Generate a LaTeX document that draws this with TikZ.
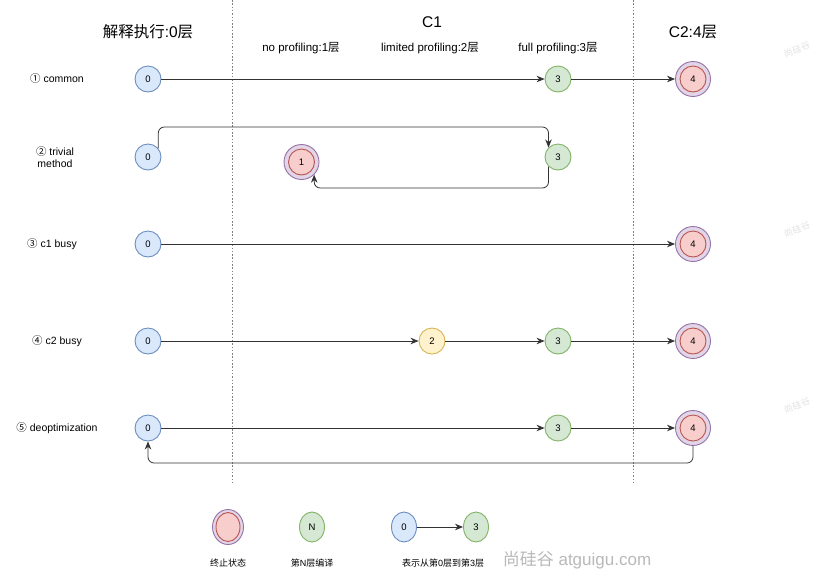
\documentclass[tikz,border=0pt]{standalone}
\usepackage{fontspec}
\setmainfont{Liberation Sans}
\newfontfamily\cjk{Noto Sans CJK SC}
\usetikzlibrary{arrows.meta,shapes.geometric}
\definecolor{bfill}{HTML}{DAE8FC}\definecolor{bline}{HTML}{6C8EBF}
\definecolor{gfill}{HTML}{D5E8D4}\definecolor{gline}{HTML}{82B366}
\definecolor{yfill}{HTML}{FFF2CC}\definecolor{yline}{HTML}{D6B656}
\definecolor{rfill}{HTML}{F8CECC}\definecolor{rline}{HTML}{B85450}
\definecolor{pfill}{HTML}{E1D5E7}\definecolor{pline}{HTML}{9673A6}
\definecolor{conn}{HTML}{333333}
\tikzset{
  st/.style={circle,minimum size=26pt,inner sep=0pt,line width=0.9pt,font=\fontsize{9.5}{10}\selectfont},
  blue0/.style={st,draw=bline,fill=bfill},
  green3/.style={st,draw=gline,fill=gfill},
  yellow2/.style={st,draw=yline,fill=yfill},
  term/.style={st,minimum size=35pt,draw=pline,fill=pfill,
    path picture={\draw[line width=0.9pt,draw=rline,fill=rfill] (path picture bounding box.center) circle (13pt);}},
  arr/.style={draw=conn,line width=0.8pt,-{Stealth[length=8pt,width=6.5pt]}},
  sep/.style={draw=gray,line width=1pt,dash pattern=on 1.5pt off 1.8pt},
  rowlab/.style={font=\fontsize{10.5}{12.5}\selectfont,align=center},
  head/.style={font=\fontsize{15.5}{17}\selectfont},
  sub/.style={font=\fontsize{11.5}{13}\selectfont},
  leg/.style={font=\fontsize{9}{11}\selectfont},
  wm/.style={text=gray!22,font=\fontsize{9}{10}\selectfont,rotate=20,anchor=west,inner sep=0pt}
}
\begin{document}
\begin{tikzpicture}[x=1pt,y=-1pt]
\useasboundingbox (0,0) rectangle (816,582);
\fill[white] (0,0) rectangle (816,582);
% separators
\draw[sep] (232,0) -- (232,485);
\draw[sep] (633,0) -- (633,485);
% headers
\node[head] (h0) at (148,32) {{\cjk 解释执行}:0{\cjk 层}};
\node[head] (h1) at (432,22) {C1};
\node[head] (h2) at (693,32) {C2:4{\cjk 层}};
\node[sub] (s1) at (301,48) {no profiling:1{\cjk 层}};
\node[sub] (s2) at (430,48) {limited profiling:2{\cjk 层}};
\node[sub] (s3) at (558,48) {full profiling:3{\cjk 层}};
% row labels
\node[rowlab] (l1) at (57,79) {{\cjk ①} common};
\node[rowlab] (l2) at (55,157) {{\cjk ②} trivial\\method};
\node[rowlab] (l3) at (52,244) {{\cjk ③} c1 busy};
\node[rowlab] (l4) at (57,341) {{\cjk ④} c2 busy};
\node[rowlab] (l5) at (57,428) {{\cjk ⑤} deoptimization};
% row 1
\node[blue0] (r1a) at (148,79) {0};
\node[green3] (r1c) at (558,79) {3};
\node[term] (r1d) at (693,79) {4};
\draw[arr] (r1a) -- (r1c);
\draw[arr] (r1c) -- (r1d);
% row 2
\node[blue0] (r2a) at (148,157) {0};
\node[term] (r2b) at (301.5,162) {1};
\node[green3] (r2c) at (558,157) {3};
\coordinate (t2) at (0,127);
\coordinate (t3) at (0,188);
\draw[arr,rounded corners=6pt] (r2a.40) -- (r2a.40 |- t2) -- (t2 -| r2c.135) -- (r2c.135);
\draw[arr,rounded corners=6pt] (r2c.225) -- (r2c.225 |- t3) -- (t3 -| r2b.-45) -- (r2b.-45);
% row 3
\node[blue0] (r3a) at (148,244) {0};
\node[term] (r3d) at (693,244) {4};
\draw[arr] (r3a) -- (r3d);
% row 4
\node[blue0] (r4a) at (148,341) {0};
\node[yellow2] (r4b) at (432,341) {2};
\node[green3] (r4c) at (558,341) {3};
\node[term] (r4d) at (693,341) {4};
\draw[arr] (r4a) -- (r4b);
\draw[arr] (r4b) -- (r4c);
\draw[arr] (r4c) -- (r4d);
% row 5
\node[blue0] (r5a) at (148,428) {0};
\node[green3] (r5c) at (558,428) {3};
\node[term] (r5d) at (693,428) {4};
\coordinate (t5) at (0,463);
\draw[arr] (r5a) -- (r5c);
\draw[arr] (r5c) -- (r5d);
\draw[arr,rounded corners=6pt] (r5d.south) -- (r5d.south |- t5) -- (t5 -| r5a.south) -- (r5a.south);
% legend
\node[ellipse,minimum width=31pt,minimum height=35pt,inner sep=0pt,draw=pline,fill=pfill,line width=0.9pt,
  path picture={\draw[line width=0.9pt,draw=rline,fill=rfill] (path picture bounding box.center) ellipse (12pt and 14.5pt);}] (g1) at (228,527) {};
\node[ellipse,minimum width=25pt,minimum height=30pt,inner sep=0pt,draw=gline,fill=gfill,line width=0.9pt,font=\fontsize{9.5}{10}\selectfont] (g2) at (312,527) {N};
\node[ellipse,minimum width=25pt,minimum height=30pt,inner sep=0pt,draw=bline,fill=bfill,line width=0.9pt,font=\fontsize{9.5}{10}\selectfont] (g3) at (404,527) {0};
\node[ellipse,minimum width=25pt,minimum height=30pt,inner sep=0pt,draw=gline,fill=gfill,line width=0.9pt,font=\fontsize{9.5}{10}\selectfont] (g4) at (476,527) {3};
\draw[arr] (g3) -- (g4);
\node[leg] (gl1) at (228,563) {\cjk 终止状态};
\node[leg] (gl2) at (312,563) {{\cjk 第}N{\cjk 层编译}};
\node[leg] (gl3) at (443,563) {{\cjk 表示从第}0{\cjk 层到第}3{\cjk 层}};
% watermarks
\node[text=gray!55,font=\fontsize{17}{19}\selectfont] (wm0) at (577,560) {{\cjk 尚硅谷} atguigu.com};
\node[wm] (wm1) at (784,54) {\cjk 尚硅谷};
\node[wm] (wm2) at (784,234) {\cjk 尚硅谷};
\node[wm] (wm3) at (784,410) {\cjk 尚硅谷};
\end{tikzpicture}
\end{document}
